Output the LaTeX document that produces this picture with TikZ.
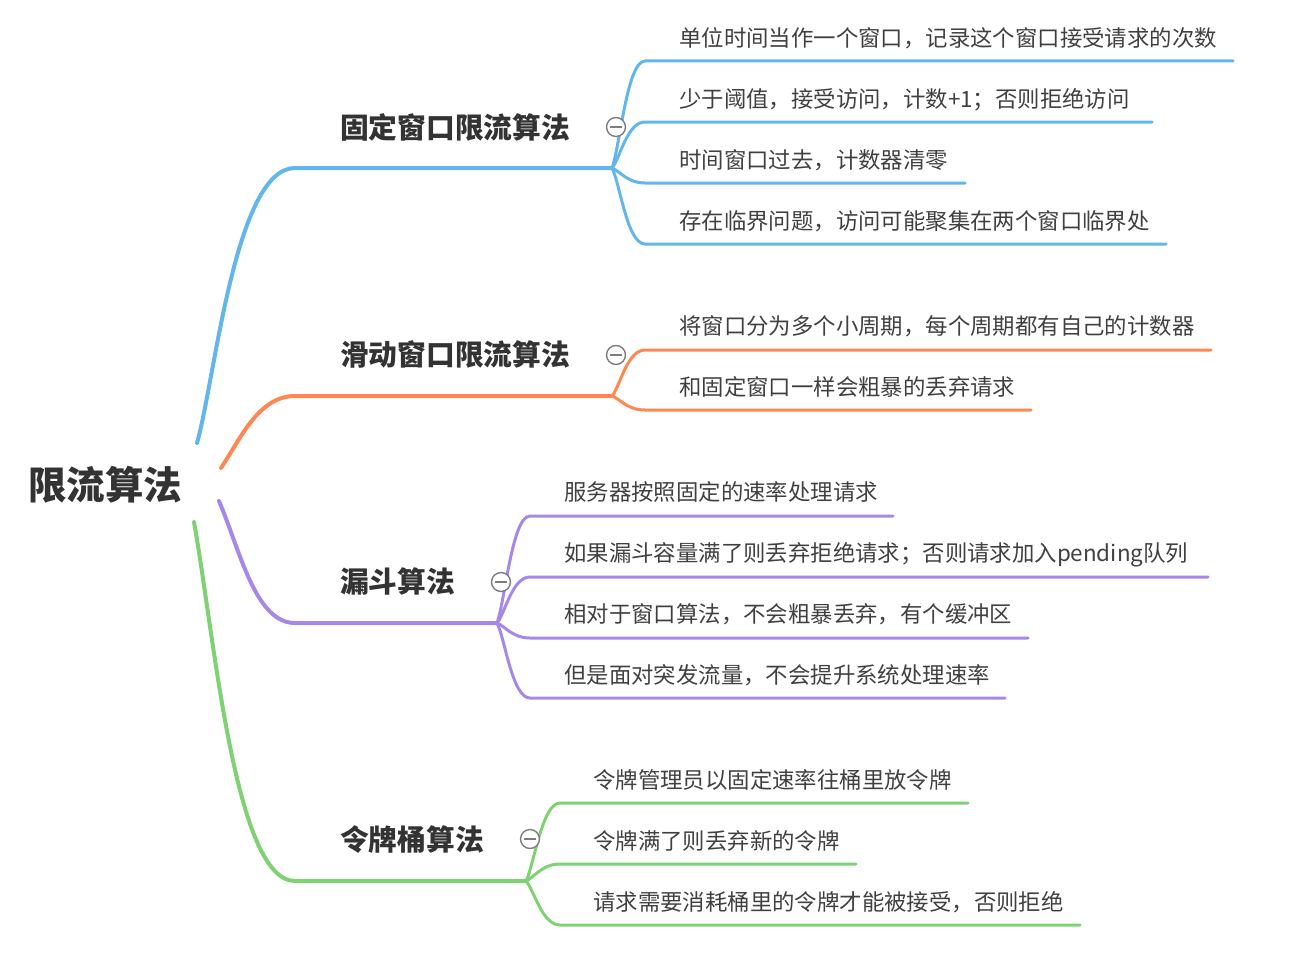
\documentclass[tikz,border=0pt]{standalone}
\usepackage{fontspec}
\setmainfont{Noto Sans CJK SC}
\usetikzlibrary{calc}
\definecolor{cblue}{RGB}{98,182,236}
\definecolor{corange}{RGB}{255,136,82}
\definecolor{cpurple}{RGB}{166,136,235}
\definecolor{cgreen}{RGB}{126,210,116}
\definecolor{ctext}{RGB}{51,51,51}
\definecolor{ckid}{RGB}{64,64,64}
\definecolor{cmark}{RGB}{125,125,125}
\begin{document}
\begin{tikzpicture}[x=1pt,y=-1pt,
  roottext/.style={font=\fontsize{38.5}{42}\selectfont\bfseries, text=ctext, inner sep=0},
  labeltext/.style={font=\fontsize{28.75}{32}\selectfont\bfseries, text=ctext, inner sep=0, anchor=west, text height=25.3pt, text depth=3.4pt},
  kidtext/.style={font=\fontsize{22.4}{24}\selectfont, text=ckid, inner sep=0, anchor=west, text height=19.7pt, text depth=2.7pt},
  trunk/.style={line width=4pt, line cap=round},
  kidline/.style={line width=3pt, line cap=round},
  collapse/.style={circle, draw=cmark, fill=white, line width=1.4pt, minimum size=19pt, inner sep=0,
    path picture={\draw[cmark, line width=1.4pt] ([xshift=-6pt]path picture bounding box.center) -- ([xshift=6pt]path picture bounding box.center);}},
  kid/.style={to path={let \p1=(\tikztostart), \p2=(\tikztotarget) in
     .. controls (\x1+8pt,{\y1+0.2*(\y2-\y1)}) and (\x2-18pt,\y2) .. (\tikztotarget)}}
]
\useasboundingbox (0,0) rectangle (1292,974);

% root
\node[roottext] (root) at (105,485) {限流算法};

% ---------- branch 1 (blue)
\coordinate (r1) at (197,443);
\coordinate (k1) at (295,168);
\coordinate (j1) at (612,168);
\draw[trunk,cblue] (r1) .. controls (215,380) and (235,168) .. (k1) -- (j1);
\node[labeltext] (l1) at (340,128) {固定窗口限流算法};

\coordinate (s11) at (645,61);  \coordinate (e11) at (1233,61);
\coordinate (s12) at (645,122); \coordinate (e12) at (1152,122);
\coordinate (s13) at (645,183); \coordinate (e13) at (965,183);
\coordinate (s14) at (645,244); \coordinate (e14) at (1166,244);
\draw[kidline,cblue] (j1) to[kid] (s11) -- (e11);
\draw[kidline,cblue] (j1) to[kid] (s12) -- (e12);
\draw[kidline,cblue] (j1) to[kid] (s13) -- (e13);
\draw[kidline,cblue] (j1) to[kid] (s14) -- (e14);
\node[kidtext] (t11) at (679,38) {单位时间当作一个窗口，记录这个窗口接受请求的次数};
\node[kidtext] (t12) at (679,99) {少于阈值，接受访问，计数+1；否则拒绝访问};
\node[kidtext] (t13) at (679,160) {时间窗口过去，计数器清零};
\node[kidtext] (t14) at (679,221) {存在临界问题，访问可能聚集在两个窗口临界处};
\node[collapse] (m1) at (616,127) {};

% ---------- branch 2 (orange)
\coordinate (r2) at (221,468);
\coordinate (k2) at (295,396);
\coordinate (j2) at (612,396);
\draw[trunk,corange] (r2) .. controls (240,440) and (258,396) .. (k2) -- (j2);
\node[labeltext] (l2) at (340,355) {滑动窗口限流算法};

\coordinate (s21) at (645,350); \coordinate (e21) at (1211,350);
\coordinate (s22) at (645,410); \coordinate (e22) at (1031,410);
\draw[kidline,corange] (j2) to[kid] (s21) -- (e21);
\draw[kidline,corange] (j2) to[kid] (s22) -- (e22);
\node[kidtext] (t21) at (679,326) {将窗口分为多个小周期，每个周期都有自己的计数器};
\node[kidtext] (t22) at (679,387) {和固定窗口一样会粗暴的丢弃请求};
\node[collapse] (m2) at (616,355) {};

% ---------- branch 3 (purple)
\coordinate (r3) at (219,501);
\coordinate (k3) at (295,623);
\coordinate (j3) at (497,623);
\draw[trunk,cpurple] (r3) .. controls (240,550) and (255,623) .. (k3) -- (j3);
\node[labeltext] (l3) at (340,582) {漏斗算法};

\coordinate (s31) at (530,516); \coordinate (e31) at (893,516);
\coordinate (s32) at (530,577); \coordinate (e32) at (1208,577);
\coordinate (s33) at (530,638); \coordinate (e33) at (1028,638);
\coordinate (s34) at (530,698); \coordinate (e34) at (1005,698);
\draw[kidline,cpurple] (j3) to[kid] (s31) -- (e31);
\draw[kidline,cpurple] (j3) to[kid] (s32) -- (e32);
\draw[kidline,cpurple] (j3) to[kid] (s33) -- (e33);
\draw[kidline,cpurple] (j3) to[kid] (s34) -- (e34);
\node[kidtext] (t31) at (564,492) {服务器按照固定的速率处理请求};
\node[kidtext] (t32) at (564,553) {如果漏斗容量满了则丢弃拒绝请求；否则请求加入pending队列};
\node[kidtext] (t33) at (564,614) {相对于窗口算法，不会粗暴丢弃，有个缓冲区};
\node[kidtext] (t34) at (564,675) {但是面对突发流量，不会提升系统处理速率};
\node[collapse] (m3) at (501,582) {};

% ---------- branch 4 (green)
\coordinate (r4) at (194,522);
\coordinate (k4) at (295,881);
\coordinate (j4) at (526,881);
\draw[trunk,cgreen] (r4) .. controls (215,640) and (235,881) .. (k4) -- (j4);
\node[labeltext] (l4) at (340,840) {令牌桶算法};

\coordinate (s41) at (560,803); \coordinate (e41) at (968,803);
\coordinate (s42) at (560,864); \coordinate (e42) at (856,864);
\coordinate (s43) at (560,925); \coordinate (e43) at (1080,925);
\draw[kidline,cgreen] (j4) to[kid] (s41) -- (e41);
\draw[kidline,cgreen] (j4) to[kid] (s42) -- (e42);
\draw[kidline,cgreen] (j4) to[kid] (s43) -- (e43);
\node[kidtext] (t41) at (593,780) {令牌管理员以固定速率往桶里放令牌};
\node[kidtext] (t42) at (593,841) {令牌满了则丢弃新的令牌};
\node[kidtext] (t43) at (593,902) {请求需要消耗桶里的令牌才能被接受，否则拒绝};
\node[collapse] (m4) at (530,839) {};
\end{tikzpicture}
\end{document}
